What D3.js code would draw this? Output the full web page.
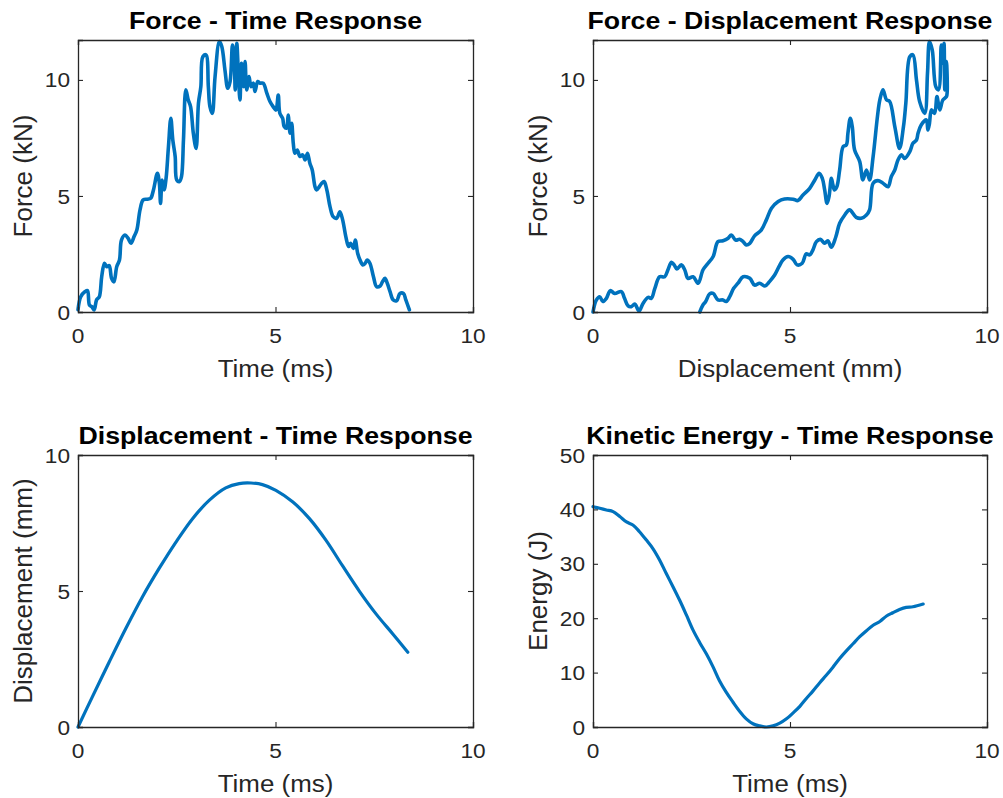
<!DOCTYPE html>
<html><head><meta charset="utf-8">
<script src="https://cdn.jsdelivr.net/npm/d3@7"></script>
<style>
body{margin:0;background:#fff}
svg text{font-family:"Liberation Sans",Arial,Helvetica,sans-serif}
</style>
</head><body>
<svg id="chart" width="1003" height="798"></svg>
<script>
// ---------- data ----------
const xTicks = [0, 5, 10];
const forceTicks = [0, 5, 10];
const dispTicks = [0, 5, 10];
const energyTicks = [0, 10, 20, 30, 40, 50];

// Force - Time
const ftTime = [0,0.07,0.18,0.24,0.29,0.35,0.41,0.47,0.54,0.6,0.67,0.73,0.79,0.85,0.91,0.98,1.05,1.1,1.19,1.27,1.34,1.42,1.49,1.57,1.65,1.76,1.84,1.91,2.01,2.06,2.09,2.13,2.18,2.23,2.29,2.35,2.4,2.46,2.5,2.57,2.62,2.67,2.73,2.79,2.85,2.92,2.99,3.05,3.11,3.16,3.24,3.3,3.34,3.4,3.47,3.58,3.64,3.72,3.79,3.85,3.91,3.96,3.98,4.02,4.06,4.1,4.14,4.19,4.23,4.27,4.33,4.38,4.44,4.48,4.55,4.61,4.69,4.78,4.86,4.94,5.01,5.07,5.11,5.18,5.22,5.28,5.32,5.37,5.41,5.45,5.49,5.55,5.62,5.69,5.75,5.81,5.87,5.93,6.0,6.04,6.11,6.17,6.23,6.3,6.38,6.46,6.55,6.63,6.7,6.78,6.85,6.9,6.97,7.02,7.08,7.14,7.21,7.27,7.32,7.39,7.48,7.56,7.65,7.71,7.77,7.83,7.9,7.98,8.07,8.15,8.24,8.3,8.39];
const ftForce = [0.1,0.66,0.88,0.92,0.3,0.23,0.09,0.52,0.66,1.52,2.1,1.95,2.0,1.45,1.3,1.95,2.24,3.1,3.32,3.17,2.96,3.25,3.53,4.4,4.83,4.86,4.9,5.26,5.98,5.55,4.68,5.69,5.26,5.76,7.13,8.35,7.41,6.7,5.69,5.62,5.83,7.41,9.57,9.14,8.85,7.7,7.05,9.0,9.71,11.0,11.08,9.71,8.85,8.56,10.14,11.65,11.44,10.43,9.64,9.93,11.5,10.57,9.57,11.58,10.29,9.14,10.72,9.71,10.79,9.57,10.14,9.71,9.86,9.5,9.93,9.86,9.86,9.43,9.07,8.85,8.7,9.35,8.56,8.35,7.99,7.92,8.49,7.7,8.13,7.27,6.84,6.98,6.7,6.77,6.55,6.84,6.41,6.12,5.4,5.26,5.4,5.55,5.62,5.26,4.54,4.11,4.04,4.32,3.97,3.25,2.82,2.96,2.74,3.1,2.53,2.24,2.03,2.1,2.24,2.1,1.52,1.09,1.12,1.31,1.45,1.24,0.88,0.52,0.49,0.8,0.8,0.52,0.09];

// Force - Displacement (loading then unloading)
const fdDisp = [0,0.08,0.17,0.25,0.34,0.44,0.55,0.72,0.8,0.89,0.97,1.06,1.17,1.27,1.4,1.48,1.57,1.69,1.82,1.9,1.99,2.06,2.13,2.24,2.33,2.41,2.54,2.67,2.79,2.92,3.05,3.17,3.3,3.43,3.51,3.62,3.72,3.81,3.89,3.98,4.1,4.27,4.4,4.53,4.7,4.86,5.08,5.2,5.33,5.5,5.63,5.74,5.82,5.88,5.94,5.99,6.05,6.09,6.13,6.19,6.26,6.35,6.43,6.47,6.53,6.58,6.64,6.77,6.85,6.94,7.02,7.11,7.22,7.28,7.36,7.45,7.53,7.66,7.78,7.88,7.94,8.04,8.12,8.21,8.29,8.42,8.49,8.54,8.61,8.7,8.77,8.84,8.88,8.91,8.93,8.97,8.99,
  8.97,8.88,8.8,8.73,8.67,8.59,8.54,8.5,8.46,8.33,8.25,8.21,8.12,8.04,7.91,7.83,7.74,7.66,7.57,7.49,7.36,7.23,7.11,7.02,6.94,6.81,6.68,6.51,6.39,6.26,6.16,6.05,5.96,5.88,5.77,5.67,5.58,5.5,5.41,5.31,5.18,5.08,4.95,4.82,4.72,4.61,4.48,4.36,4.23,4.1,3.98,3.81,3.68,3.57,3.47,3.38,3.3,3.17,3.05,2.96,2.86,2.79,2.71];
const fdForce = [0,0.5,0.66,0.45,0.59,0.92,0.8,0.88,0.59,0.26,0.23,0.34,0.04,0.37,0.63,0.59,1.02,1.52,1.52,1.81,2.14,2.03,1.85,2.03,1.81,1.45,1.52,1.24,1.81,2.1,2.39,3.03,3.07,3.18,3.32,3.1,3.13,3.03,2.89,2.96,3.28,3.53,3.97,4.47,4.76,4.87,4.86,4.8,5.04,5.33,5.69,5.98,5.76,5.26,4.68,4.97,5.76,5.47,5.26,5.4,6.12,7.13,7.2,7.7,8.35,7.99,6.98,6.48,5.69,6.12,5.69,6.7,8.43,9.14,9.57,9.14,9.07,7.99,7.05,7.99,9.0,11.0,11.08,10.0,9.07,8.56,10.29,11.65,11.29,9.71,9.57,11.5,10.72,11.58,9.57,10.79,9.5,
  9.28,9.14,8.71,9.28,8.56,8.71,8.13,7.84,8.28,8.06,7.7,7.41,7.27,6.91,6.62,6.77,6.55,6.12,5.83,5.4,5.55,5.66,5.55,4.4,4.18,4.04,4.08,4.4,4.18,3.82,3.22,2.79,3.07,2.96,3.13,3.03,2.67,2.46,2.5,2.1,2.03,2.27,2.39,2.24,1.95,1.59,1.31,1.12,1.24,1.16,1.45,1.52,1.24,1.02,0.66,0.45,0.52,0.52,0.8,0.78,0.45,0.3,0.0];

// Displacement - Time
const dtTime = [0,0.36,0.79,1.21,1.63,2.05,2.48,2.9,3.32,3.74,4.08,4.38,4.67,5.01,5.44,5.86,6.28,6.7,7.13,7.55,7.97,8.35];
const dtDisp = [0,1.1,2.39,3.62,4.78,5.82,6.8,7.66,8.33,8.79,8.95,8.97,8.91,8.7,8.27,7.66,6.86,5.92,4.98,4.15,3.42,2.75];

// Kinetic Energy - Time
const keTime = [0,0.17,0.34,0.51,0.68,0.85,1.02,1.18,1.35,1.52,1.69,1.86,2.03,2.2,2.37,2.54,2.71,2.88,3.05,3.21,3.38,3.55,3.72,3.89,4.06,4.23,4.4,4.57,4.74,4.91,5.08,5.25,5.41,5.58,5.75,5.92,6.09,6.26,6.43,6.6,6.77,6.94,7.11,7.28,7.45,7.61,7.78,7.95,8.12,8.38];
const keEnergy = [40.5,40.2,39.9,39.6,38.7,37.7,37.1,35.9,34.4,32.8,30.7,28.2,25.8,23.3,20.6,17.8,15.5,13.4,11.0,8.5,6.4,4.6,2.9,1.5,0.6,0.2,0.0,0.2,0.7,1.5,2.6,3.8,5.2,6.6,8.1,9.5,11.0,12.6,14.0,15.3,16.6,17.7,18.7,19.4,20.4,21.0,21.6,22.0,22.1,22.6];

// ---------- drawing ----------
const AX = "#262626";
const LINE = "#0072BD";
const svg = d3.select("#chart");

function label(g, txt, x, y, opt) {
  const t = g.append("text").text(txt)
    .attr("font-size", opt.size)
    .attr("fill", opt.fill || AX)
    .attr("font-weight", opt.bold ? "bold" : "normal")
    .attr("text-anchor", opt.anchor || "middle");
  if (opt.dy) t.attr("dy", opt.dy);
  const sx = opt.sx || 1;
  if (opt.rotate) t.attr("transform", `translate(${x},${y}) rotate(-90) scale(1,${sx})`);
  else t.attr("transform", `translate(${x},${y}) scale(${sx},1)`);
  return t;
}

function panel(cfg) {
  const x = d3.scaleLinear().domain([0, 10]).range([cfg.left, cfg.right]);
  const y = d3.scaleLinear().domain(cfg.yDomain).range([cfg.bottom, cfg.top]);
  const g = svg.append("g");

  // data line
  const line = d3.line().x(d => x(d[0])).y(d => y(d[1])).curve(d3.curveCatmullRom.alpha(0.5));
  const pts = cfg.xs.map((v, i) => [v, cfg.ys[i]]);
  g.append("path").datum(pts).attr("d", line)
    .attr("fill", "none").attr("stroke", LINE).attr("stroke-width", cfg.lw || 3.2)
    .attr("stroke-linejoin", "round").attr("stroke-linecap", "round");

  // axes (box with inner ticks on all sides)
  const tl = 5;
  const axB = d3.axisBottom(x).tickValues(xTicks).tickSize(-tl).tickFormat("");
  const axT = d3.axisTop(x).tickValues(xTicks).tickSize(-tl).tickFormat("");
  const axL = d3.axisLeft(y).tickValues(cfg.yTicks).tickSize(-tl).tickFormat("");
  const axR = d3.axisRight(y).tickValues(cfg.yTicks).tickSize(-tl).tickFormat("");
  const style = s => { s.select(".domain").attr("stroke", AX).attr("stroke-width", 1.3);
                       s.selectAll(".tick line").attr("stroke", AX).attr("stroke-width", 1.1); };
  g.append("g").attr("transform", `translate(0,${cfg.bottom})`).call(axB).call(style);
  g.append("g").attr("transform", `translate(0,${cfg.top})`).call(axT).call(style);
  g.append("g").attr("transform", `translate(${cfg.left},0)`).call(axL).call(style);
  g.append("g").attr("transform", `translate(${cfg.right},0)`).call(axR).call(style);

  // tick labels
  xTicks.forEach(v => label(g, String(v), x(v), cfg.bottom + 31, {size: 21, sx: 1.08}));
  cfg.yTicks.forEach(v => label(g, String(v), cfg.left - 8, y(v), {size: 21, sx: 1.08, anchor: "end", dy: "0.36em"}));

  // axis labels
  label(g, cfg.xLabel, (cfg.left + cfg.right) / 2, cfg.bottom + 65, {size: 24, sx: 1.08});
  label(g, cfg.yLabel, cfg.left - 55, (cfg.top + cfg.bottom) / 2, {size: 26, rotate: true, dy: "0.36em"});

  // title
  label(g, cfg.title, (cfg.left + cfg.right) / 2, cfg.top - 11, {size: 24.5, sx: 1.09, bold: true, fill: "#000"});
}

const fMax = 11.72;
panel({left: 78, right: 473, top: 40, bottom: 312, yDomain: [0, fMax], yTicks: forceTicks, lw: 3.6,
  xs: ftTime, ys: ftForce, title: "Force - Time Response", xLabel: "Time (ms)", yLabel: "Force (kN)"});
panel({left: 593, right: 987, top: 40, bottom: 312, yDomain: [0, fMax], yTicks: forceTicks, lw: 3.6,
  xs: fdDisp, ys: fdForce, title: "Force - Displacement Response", xLabel: "Displacement (mm)", yLabel: "Force (kN)"});
panel({left: 78, right: 473, top: 455, bottom: 727, yDomain: [0, 10], yTicks: dispTicks,
  xs: dtTime, ys: dtDisp, title: "Displacement - Time Response", xLabel: "Time (ms)", yLabel: "Displacement (mm)"});
panel({left: 593, right: 987, top: 455, bottom: 727, yDomain: [0, 50], yTicks: energyTicks,
  xs: keTime, ys: keEnergy, title: "Kinetic Energy - Time Response", xLabel: "Time (ms)", yLabel: "Energy (J)"});
</script>
</body></html>
